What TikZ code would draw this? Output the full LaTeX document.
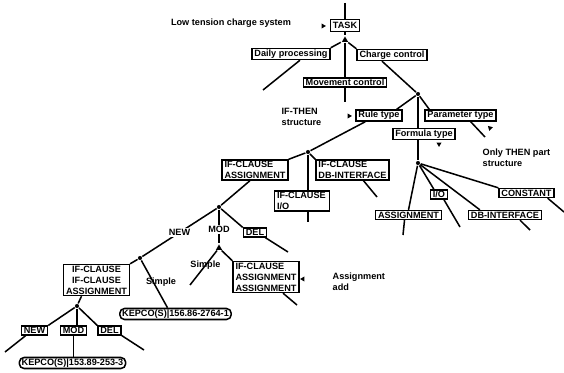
\documentclass[tikz,border=0pt]{standalone}
\usepackage{fontspec}
\setmainfont{Liberation Sans}
\usetikzlibrary{positioning,calc,shapes.geometric}

\begin{document}
\begin{tikzpicture}[x=0.03cm,y=-0.03cm,line width=1.3pt,
    every node/.style={font=\fontsize{7.8}{9.4}\selectfont\bfseries},
    box/.style={draw,rectangle,inner xsep=2pt,inner ysep=1pt,align=center},
    kbox/.style={box,rounded corners=4pt},
    jdot/.style={circle,fill,inner sep=0pt,minimum size=3.5pt},
    jtri/.style={regular polygon,regular polygon sides=3,fill,inner sep=0pt,minimum size=6pt},
    pointer/.style={regular polygon,regular polygon sides=3,fill,inner sep=0pt,minimum size=5pt}]
    \useasboundingbox (0,0) rectangle (564,373);
    % top of the tree
    \node (title) at (231,23) {Low tension charge system};
    \coordinate (top) at (345,3);
    \node[box,inner ysep=2.5pt] (task) at (345,25.5) {TASK};
    \node[pointer,rotate=-90] (tp) at (323,26) {};
    \node[jtri] (j1) at (345,40) {};
    \node[box] (dp) at (291,54) {Daily processing};
    \node[box] (mc) at (345,82.5) {Movement control};
    \node[box] (cc) at (392,55) {Charge control};
    \coordinate (dpT) at (263,90);
    \coordinate (mcT) at (345,102);
    \node[jdot] (j2) at (418,94) {};
    \node[anchor=west,align=left] (ift) at (277,116.5) {IF-THEN\\structure};
    \node[box] (rt) at (379,115.5) {Rule type};
    \node[pointer,rotate=-90] (rp) at (349,116) {};
    \node[box] (pt) at (460.5,115.5) {Parameter type};
    \coordinate (ptT) at (485,137);
    \node[pointer,rotate=45] (pp) at (490,128) {};
    \node[box] (ft) at (424,134) {Formula type};
    \node[pointer,rotate=180] (fp) at (439,144) {};
    % THEN part
    \node[jdot] (j3) at (418,163) {};
    \node[anchor=west,align=left] (otp) at (478,157.5) {Only THEN part\\structure};
    \node[box] (asg) at (408.5,215) {ASSIGNMENT};
    \coordinate (asgT) at (403,235);
    \node[box] (io) at (439,194.5) {I/O};
    \coordinate (ioT) at (460,227);
    \node[box] (dbi) at (505,215) {DB-INTERFACE};
    \coordinate (dbiT) at (530,230);
    \node[box] (con) at (526.5,193) {CONSTANT};
    \coordinate (conT) at (564,212);
    % IF part
    \node[jdot] (j4) at (308,152) {};
    \node[box,align=left] (ica) at (255,170) {IF-CLAUSE\\ASSIGNMENT};
    \node[box,text width=1.5cm,align=left] (icio) at (302,201) {IF-CLAUSE\\I/O};
    \node[box,align=left] (icdb) at (352.5,170) {IF-CLAUSE\\DB-INTERFACE};
    \coordinate (icioT) at (308,222);
    \coordinate (icdbT) at (377,197);
    \node[jdot] (j5) at (219,207) {};
    \node[jdot] (j6) at (140,258) {};
    \node[jtri] (j7) at (219,248) {};
    \node[box] (del1) at (255,232.5) {DEL};
    \coordinate (del1T) at (288,252);
    \coordinate (s1T) at (190,285);
    \node[box,align=left] (ica2) at (266,277) {IF-CLAUSE\\ASSIGNMENT\\ASSIGNMENT};
    \node[pointer,rotate=90] (ap) at (303,279) {};
    \coordinate (ica2T) at (297,305);
    \node[anchor=west,align=left] (aa) at (328,281.5) {Assignment\\add};
    \node[box] (iica) at (96.5,280) {IF-CLAUSE\\IF-CLAUSE\\ASSIGNMENT};
    \node[kbox] (k1) at (175.5,314) {KEPCO(S)|156.86-2764-1};
    \node (sm2) at (161,282) {Simple};
    \node[jdot] (j8) at (77,306) {};
    \node[box] (new2) at (34.5,330.5) {NEW};
    \node[box] (mod2) at (73.5,330.5) {MOD};
    \node[box] (del2) at (109.5,330.5) {DEL};
    \coordinate (new2T) at (5,352);
    \coordinate (del2T) at (144,350);
    \node[kbox] (k2) at (72.5,363) {KEPCO(S)|153.89-253-3};
    % connectors
    \draw (top) -- (task);
    \draw (task) -- (j1);
    \draw (j1) -- (dp.north east);
    \draw (j1) -- (mc);
    \draw (j1) -- (cc.north west);
    \draw ($(dp.south)+(9,0)$) -- (dpT);
    \draw (mc) -- (mcT);
    \draw ($(cc.south)+(-10,0)$) -- (j2);
    \draw (j2) -- ($(rt.north east)+(-6,0)$);
    \draw (j2) -- (j2 |- ft.north);
    \draw (j2) -- ($(pt.north west)+(5,0)$);
    \draw ($(pt.south)+(10,0)$) -- (ptT);
    \draw (ft.south -| j2) -- (j3);
    \draw (j3) -- (asg.north);
    \draw ($(asg.south)+(-4,0)$) -- (asgT);
    \draw (j3) -- ($(io.north west)+(4,0)$);
    \draw ($(io.south)+(5,0)$) -- (ioT);
    \draw (j3) -- ($(dbi.north west)+(12,0)$);
    \draw ($(dbi.south)+(15,0)$) -- (dbiT);
    \draw (j3) -- (con.north west);
    \draw ($(con.south east)+(-7,0)$) -- (conT);
    \draw ($(rt.south west)+(10,0)$) -- (j4);
    \draw (j4) -- (ica.north east);
    \draw (j4) -- (j4 |- icio.north);
    \draw (j4) -- (icdb.north west);
    \draw (icio.south -| j4) -- (icioT);
    \draw ($(icdb.south)+(11,0)$) -- (icdbT);
    \draw ($(ica.south)+(-5,0)$) -- (j5);
    \draw (j5) -- node[fill=white,inner sep=1pt] {NEW} (j6);
    \draw (j5) -- node[fill=white,inner sep=1pt,pos=0.6] {MOD} (j7);
    \draw (j5) -- (del1.north west);
    \draw ($(del1.south east)+(-2,0)$) -- (del1T);
    \draw (j7) -- node[pos=0.43] {Simple} (s1T);
    \draw (j7) -- (ica2.north west);
    \draw ($(ica2.south)+(17,0)$) -- (ica2T);
    \draw (j6) -- (iica.north east);
    \draw (j6) -- ($(k1.north)+(-8,0)$);
    \draw ($(iica.south)+(-15,0)$) -- (j8);
    \draw (j8) -- (new2.north east);
    \draw (j8) -- (j8 |- mod2.north);
    \draw (j8) -- (del2.north west);
    \draw ($(new2.south west)+(5,0)$) -- (new2T);
    \draw (mod2.south) -- (mod2.south |- k2.north);
    \draw (del2.south east) -- (del2T);
\end{tikzpicture}
\end{document}
